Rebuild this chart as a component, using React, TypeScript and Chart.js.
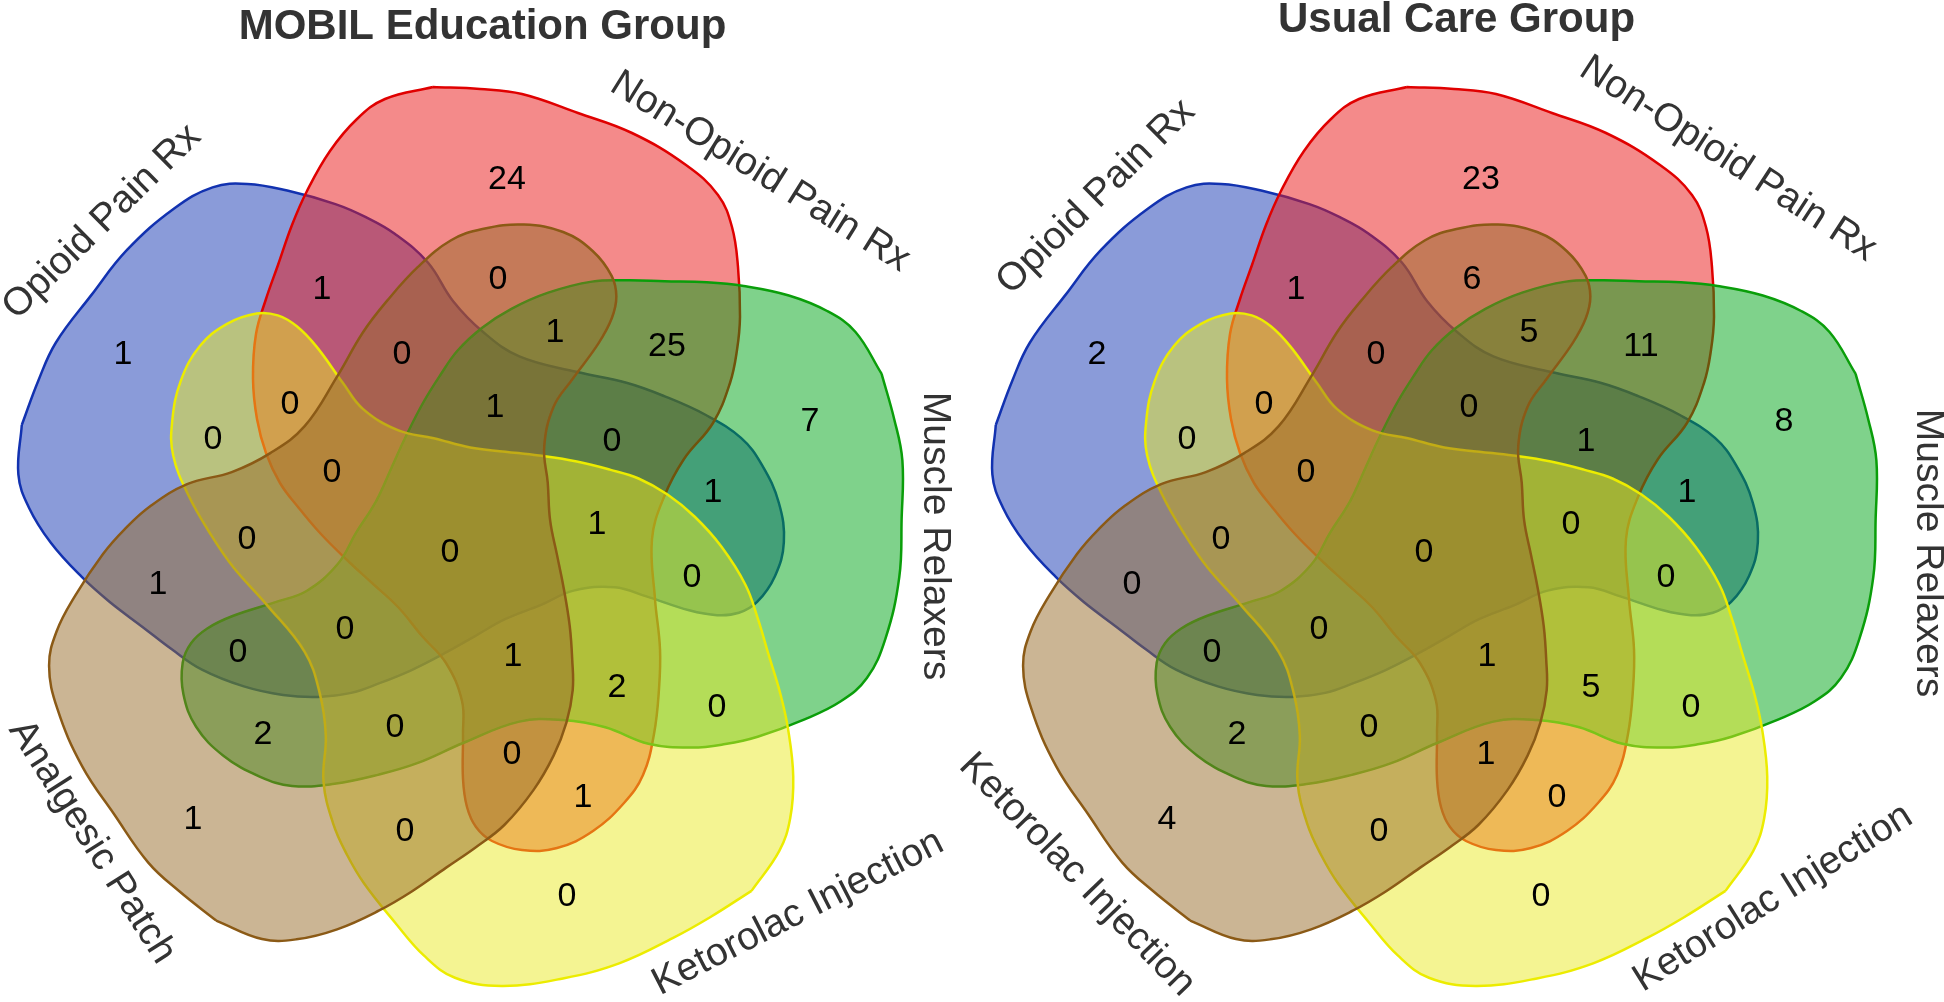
import React, { useEffect, useRef } from 'react';
import { Chart, registerables } from 'chart.js';

Chart.register(...registerables);

// ---------------- DATA ----------------
const TITLES = ['MOBIL Education Group', 'Usual Care Group'];

const SET_NAMES_MOBIL = ['Opioid Pain Rx', 'Non-Opioid Pain Rx', 'Muscle Relaxers', 'Ketorolac Injection', 'Analgesic Patch'];
const SET_NAMES_USUAL = ['Opioid Pain Rx', 'Non-Opioid Pain Rx', 'Muscle Relaxers', 'Ketorolac Injection', 'Ketorolac Injection'];

// A = Opioid, B = Non-Opioid, C = Muscle Relaxers, D = Ketorolac, E = Analgesic Patch
const REGION_KEYS = ['A', 'AB', 'B', 'ABE', 'BE', 'BCE', 'BC', 'C', 'ABD', 'AD', 'ABDE', 'ABCE', 'ABC', 'AC', 'ADE', 'ABCDE', 'ABCD', 'AE', 'ACD', 'ACDE', 'ACE', 'BCDE', 'BCD', 'CD', 'CDE', 'CE', 'BDE', 'BD', 'E', 'DE', 'D'];
const MOBIL_COUNTS = [1, 1, 24, 0, 0, 1, 25, 7, 0, 0, 0, 1, 0, 1, 0, 0, 1, 1, 0, 0, 0, 1, 2, 0, 0, 2, 0, 1, 1, 0, 0];
const USUAL_COUNTS = [2, 1, 23, 0, 6, 5, 11, 8, 0, 0, 0, 0, 1, 1, 0, 0, 0, 0, 0, 0, 0, 1, 5, 0, 0, 2, 1, 0, 4, 0, 0];

// ---------------- LAYOUT / STYLE ----------------
const PAGE_W = 1944;
const H = 1002;

// outline of one set (the top one), relative to the diagram centre; the others are rotations of it
const BLOB: number[][] = [
  [-27, -452], [20, -450], [62, -445], [118, -426], [172, -406], [226, -374], [258, -344], [272, -312],
  [278, -272], [280, -222], [277, -189], [270, -156], [253, -116], [224, -80], [204, -42], [192, 0],
  [195, 60], [200, 110], [199, 150], [194, 195], [183, 236], [164, 264], [133, 292], [97, 309],
  [62, 311], [32, 302], [16, 288], [7, 268], [3, 240], [3, 195], [2, 162], [-14, 124],
  [-38, 97], [-62, 68], [-88, 44], [-113, 21], [-140, -6], [-162, -32], [-180, -56], [-194, -86],
  [-203, -120], [-207, -160], [-204, -205], [-194, -240], [-182, -274], [-168, -314], [-153, -348],
  [-130, -388], [-103, -420], [-75, -440],
];
// the yellow set bulges a little further at its lower edge
const BLOB_YELLOW: number[][] = BLOB.map((p, i) => {
  const tweak: Record<number, number[]> = {
    0: [-29, -456], 1: [20, -453], 2: [62, -448], 3: [120, -437], 4: [175, -416], 5: [229, -386], 6: [262, -352], 7: [274, -316],
  };
  return tweak[i] || p;
});
const SET_OUTLINES = [BLOB, BLOB, BLOB, BLOB_YELLOW, BLOB];
const SET_ROTATIONS = [-72, 0, 72, 144, 216];
const SET_FILLS = ['rgba(21,55,179,0.5)', 'rgba(233,21,21,0.5)', 'rgba(0,166,24,0.5)', 'rgba(233,233,37,0.5)', 'rgba(151,107,41,0.5)'];
const SET_STROKES = ['#1232b0', '#e00000', '#0a9e0a', '#ecec00', '#8b5a16'];

// region label offsets from the diagram centre, same order as REGION_KEYS
const REGION_POS: number[][] = [
  [-337, -184], [-138, -249], [47, -359], [-58, -184], [38, -259], [95, -206], [207, -192], [350, -117],
  [-170, -134], [-247, -99], [-128, -66], [35, -131], [152, -97], [253, -46], [-213, 1], [-10, 14],
  [137, -14], [-302, 46], [232, 39], [-115, 91], [-222, 114], [53, 118], [157, 149], [257, 169],
  [-65, 189], [-197, 196], [52, 216], [123, 259], [-267, 281], [-55, 293], [107, 358],
];

// set name label [dx, dy, rotationDeg] from diagram centre
const SET_LABELS_MOBIL: number[][] = [[-358, -317, -44.5], [300, -367, 32], [475, -3, 90], [338, 374, -27], [-368, 303, 57.7]];
const SET_LABELS_USUAL: number[][] = [[-338, -342, -44.5], [294, -380, 33], [494, 14, 90], [339, 359, -32], [-357, 336, 46]];

// canvas placement on the page (canvases overlap a little so labels are never cut)
const DIAGRAMS = [
  { left: 0, width: 1000, title: TITLES[0], titleX: 482.5, titleY: 39, cx: 460, cy: 539, names: SET_NAMES_MOBIL, counts: MOBIL_COUNTS, labels: SET_LABELS_MOBIL },
  { left: 930, width: PAGE_W - 930, title: TITLES[1], titleX: 1456.5, titleY: 32, cx: 1434, cy: 539, names: SET_NAMES_USUAL, counts: USUAL_COUNTS, labels: SET_LABELS_USUAL },
];

const FONT = '"Liberation Sans", Arial, Helvetica, sans-serif';

function shapePoints(outline: number[][], rotDeg: number, cx: number, cy: number) {
  const r = (rotDeg * Math.PI) / 180;
  const c = Math.cos(r);
  const s = Math.sin(r);
  const pts = outline.map(([x, y]) => ({ x: cx + x * c - y * s, y: cy + x * s + y * c }));
  pts.push({ ...pts[0] });
  return pts;
}

function makeTextPlugin(d: any) {
  return {
    id: 'vennText',
    afterDatasetsDraw(chart: any) {
      const { ctx } = chart;
      const xs = chart.scales.x;
      const ys = chart.scales.y;
      const px = (v: number) => xs.getPixelForValue(v);
      const py = (v: number) => ys.getPixelForValue(v);
      ctx.save();
      // title
      ctx.font = `bold 42px ${FONT}`;
      ctx.fillStyle = '#333333';
      ctx.textAlign = 'center';
      ctx.textBaseline = 'alphabetic';
      ctx.fillText(d.title, px(d.titleX), py(d.titleY));
      // region counts
      ctx.font = `34px ${FONT}`;
      ctx.fillStyle = '#000000';
      ctx.textBaseline = 'middle';
      REGION_POS.forEach(([dx, dy], i) => {
        ctx.fillText(String(d.counts[i]), px(d.cx + dx), py(d.cy + dy));
      });
      // set names
      ctx.font = `39px ${FONT}`;
      ctx.fillStyle = '#333333';
      d.names.forEach((name: string, i: number) => {
        const [dx, dy, rot] = d.labels[i];
        ctx.save();
        ctx.translate(px(d.cx + dx), py(d.cy + dy));
        ctx.rotate((rot * Math.PI) / 180);
        ctx.fillText(name, 0, 0);
        ctx.restore();
      });
      ctx.restore();
    },
  };
}

function VennChart({ d }: { d: any }) {
  const ref = useRef<HTMLCanvasElement | null>(null);
  useEffect(() => {
    if (!ref.current) return;
    const datasets = d.names.map((name: string, i: number) => ({
      label: name,
      data: shapePoints(SET_OUTLINES[i], SET_ROTATIONS[i], d.cx, d.cy),
      fill: 'shape',
      backgroundColor: SET_FILLS[i],
      borderColor: SET_STROKES[i],
      borderWidth: 2.5,
      pointRadius: 0,
      pointHoverRadius: 0,
      tension: 0.4,
      order: 5 - i,
    }));
    const chart = new Chart(ref.current, {
      type: 'line',
      data: { datasets },
      options: {
        responsive: false,
        animation: false,
        events: [],
        layout: { padding: 0, autoPadding: false },
        plugins: {
          legend: { display: false },
          tooltip: { enabled: false },
          title: { display: false },
          filler: { drawTime: 'beforeDatasetDraw', propagate: false },
        },
        scales: {
          x: { type: 'linear', min: d.left, max: d.left + d.width, display: false },
          y: { type: 'linear', min: 0, max: H, reverse: true, display: false },
        },
        elements: { line: { borderJoinStyle: 'round' } },
      },
      plugins: [makeTextPlugin(d)],
    } as any);
    return () => chart.destroy();
  }, [d]);
  return (
    <canvas
      ref={ref}
      width={d.width}
      height={H}
      style={{ position: 'absolute', left: d.left, top: 0, width: d.width, height: H, display: 'block' }}
    />
  );
}

export default function App() {
  return (
    <div style={{ position: 'fixed', left: 0, top: 0, width: PAGE_W, height: H, background: '#ffffff', overflow: 'hidden' }}>
      {DIAGRAMS.map((d, i) => (
        <VennChart key={i} d={d} />
      ))}
    </div>
  );
}
